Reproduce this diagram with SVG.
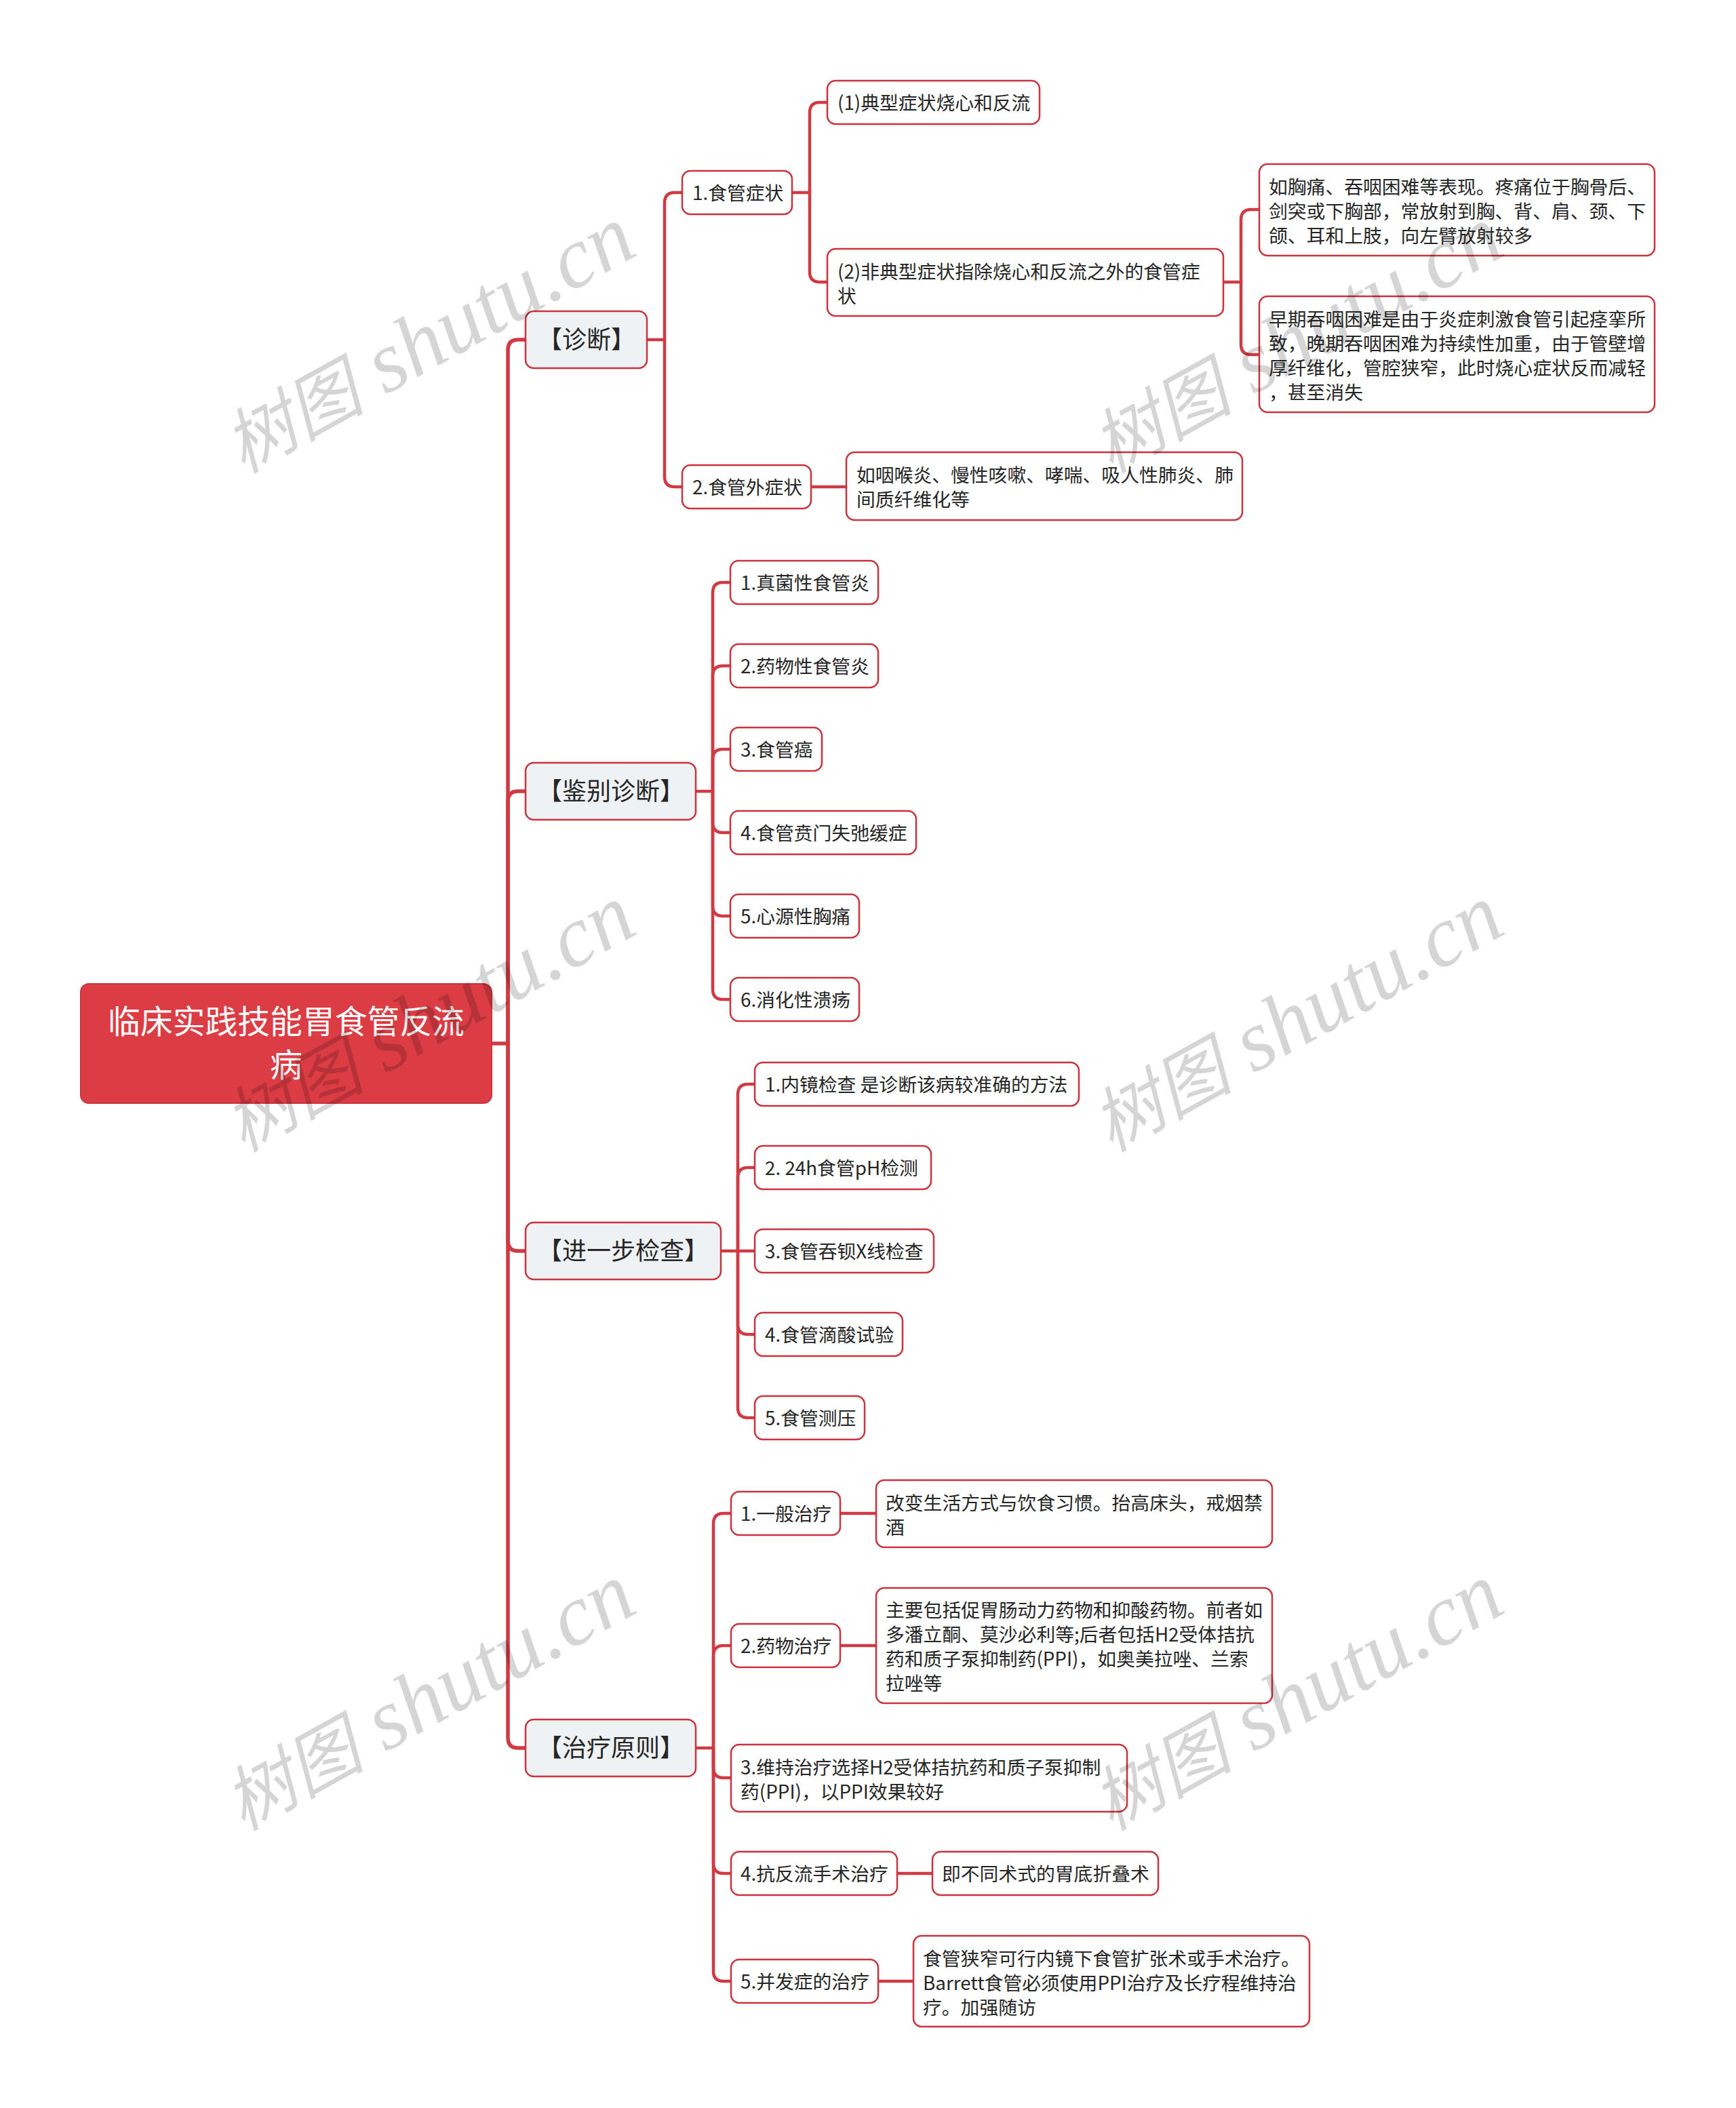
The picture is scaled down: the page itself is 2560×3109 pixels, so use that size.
<svg xmlns="http://www.w3.org/2000/svg" width="2560" height="3109" viewBox="0 0 2560 3109">
<style>
text{font-family:"Noto Sans CJK SC","Noto Sans",sans-serif;fill:#262626}
.n rect{fill:#fff;stroke:#c9333c;stroke-width:2.5}
.n text{font-size:27.8px;transform:translate(0,.7px)}
.l1 rect{fill:#eff2f5;stroke:#c9333c;stroke-width:2.5}
.l1 text{font-size:36px;text-anchor:middle}
.root rect{fill:#dc3c44;stroke:#c9333c;stroke-width:2}
.root text{font-size:47.8px;fill:#fff;text-anchor:middle}
#connectors path{fill:none;stroke:#d03a43;stroke-width:4.5;stroke-linecap:round}
#connectors path.main{stroke-width:5.5}
.wm{font-family:"Liberation Serif","Noto Sans CJK SC",serif;font-style:italic;font-size:128px;fill:#000;fill-opacity:.165}
.wm tspan{font-size:104px}
</style>
<rect width="2560" height="3109" fill="#fff"/>
<g id="connectors">
<path class="main" d="M725 1539H749"/>
<path class="main" d="M749 1539V516Q749 501 764 501H775"/>
<path class="main" d="M749 1539V1182Q749 1167 764 1167H775"/>
<path class="main" d="M749 1539V1830Q749 1845 764 1845H775"/>
<path class="main" d="M749 1539V2563Q749 2578 764 2578H775"/>
<path d="M954 501H980"/>
<path d="M980 501V299Q980 284 995 284H1006"/>
<path d="M980 501V703Q980 718 995 718H1006"/>
<path d="M1168 284H1194"/>
<path d="M1194 284V166Q1194 151 1209 151H1220"/>
<path d="M1194 284V401Q1194 416 1209 416H1220"/>
<path d="M1804 416H1830"/>
<path d="M1830 416V324Q1830 309 1845 309H1857"/>
<path d="M1830 416V508Q1830 523 1845 523H1857"/>
<path d="M1196 718H1248"/>
<path d="M1026 1167H1051"/>
<path d="M1051 1167V874Q1051 859 1066 859H1077"/>
<path d="M1051 1167V997Q1051 982 1066 982H1077"/>
<path d="M1051 1167V1120Q1051 1105 1066 1105H1077"/>
<path d="M1051 1167V1213Q1051 1228 1066 1228H1077"/>
<path d="M1051 1167V1336Q1051 1351 1066 1351H1077"/>
<path d="M1051 1167V1459Q1051 1474 1066 1474H1077"/>
<path d="M1063 1845H1113"/>
<path d="M1088 1845V1614Q1088 1599 1103 1599H1113"/>
<path d="M1088 1845V1737Q1088 1722 1103 1722H1113"/>
<path d="M1088 1845V1953Q1088 1968 1103 1968H1113"/>
<path d="M1088 1845V2076Q1088 2091 1103 2091H1113"/>
<path d="M1026 2578H1052"/>
<path d="M1052 2578V2247Q1052 2232 1067 2232H1078"/>
<path d="M1052 2578V2442Q1052 2427 1067 2427H1078"/>
<path d="M1052 2578V2607Q1052 2622 1067 2622H1078"/>
<path d="M1052 2578V2748Q1052 2763 1067 2763H1078"/>
<path d="M1052 2578V2907Q1052 2922 1067 2922H1078"/>
<path d="M1239 2232H1292"/>
<path d="M1239 2427H1292"/>
<path d="M1323 2763H1375"/>
<path d="M1295 2922H1347"/>
</g>
<g id="root" class="root"><rect x="119" y="1451" width="606" height="176" rx="12"/><text x="422" y="1524">临床实践技能胃食管反流</text><text x="422" y="1588">病</text></g>
<g id="a" class="l1"><rect x="775" y="459" width="179" height="84" rx="12"/><text x="865" y="514">【诊断】</text></g>
<g id="b" class="l1"><rect x="775" y="1125" width="251" height="84" rx="12"/><text x="901" y="1180">【鉴别诊断】</text></g>
<g id="c" class="l1"><rect x="775" y="1803" width="288" height="84" rx="12"/><text x="919" y="1858">【进一步检查】</text></g>
<g id="d" class="l1"><rect x="775" y="2536" width="251" height="84" rx="12"/><text x="901" y="2591">【治疗原则】</text></g>
<g id="a1" class="n"><rect x="1006" y="252" width="162" height="64" rx="12"/><text x="1021" y="294">1.食管症状</text></g>
<g id="a11" class="n"><rect x="1220" y="119" width="313" height="64" rx="12"/><text x="1235" y="161">(1)典型症状烧心和反流</text></g>
<g id="a12" class="n"><rect x="1220" y="367" width="584" height="99" rx="12"/><text x="1235" y="410">(2)非典型症状指除烧心和反流之外的食管症</text><text x="1235" y="446">状</text></g>
<g id="a121" class="n"><rect x="1857" y="242" width="583" height="135" rx="12"/><text x="1871" y="285">如胸痛、吞咽困难等表现。疼痛位于胸骨后、</text><text x="1871" y="321">剑突或下胸部，常放射到胸、背、肩、颈、下</text><text x="1871" y="357">颌、耳和上肢，向左臂放射较多</text></g>
<g id="a122" class="n"><rect x="1857" y="437" width="583" height="171" rx="12"/><text x="1871" y="480">早期吞咽困难是由于炎症刺激食管引起痉挛所</text><text x="1871" y="516">致，晚期吞咽困难为持续性加重，由于管壁增</text><text x="1871" y="552">厚纤维化，管腔狭窄，此时烧心症状反而减轻</text><text x="1871" y="588">，甚至消失</text></g>
<g id="a2" class="n"><rect x="1006" y="686" width="190" height="64" rx="12"/><text x="1021" y="728">2.食管外症状</text></g>
<g id="a21" class="n"><rect x="1248" y="667" width="584" height="100" rx="12"/><text x="1263" y="710">如咽喉炎、慢性咳嗽、哮喘、吸人性肺炎、肺</text><text x="1263" y="746">间质纤维化等</text></g>
<g id="b1" class="n"><rect x="1077" y="827" width="218" height="64" rx="12"/><text x="1092" y="869">1.真菌性食管炎</text></g>
<g id="b2" class="n"><rect x="1077" y="950" width="218" height="64" rx="12"/><text x="1092" y="992">2.药物性食管炎</text></g>
<g id="b3" class="n"><rect x="1077" y="1073" width="135" height="64" rx="12"/><text x="1092" y="1115">3.食管癌</text></g>
<g id="b4" class="n"><rect x="1077" y="1196" width="274" height="64" rx="12"/><text x="1092" y="1238">4.食管贲门失弛缓症</text></g>
<g id="b5" class="n"><rect x="1077" y="1319" width="190" height="64" rx="12"/><text x="1092" y="1361">5.心源性胸痛</text></g>
<g id="b6" class="n"><rect x="1077" y="1442" width="190" height="64" rx="12"/><text x="1092" y="1484">6.消化性溃疡</text></g>
<g id="c1" class="n"><rect x="1113" y="1567" width="478" height="64" rx="12"/><text x="1128" y="1609">1.内镜检查 是诊断该病较准确的方法</text></g>
<g id="c2" class="n"><rect x="1113" y="1690" width="260" height="64" rx="12"/><text x="1128" y="1732">2. 24h食管pH检测</text></g>
<g id="c3" class="n"><rect x="1113" y="1813" width="264" height="64" rx="12"/><text x="1128" y="1855">3.食管吞钡X线检查</text></g>
<g id="c4" class="n"><rect x="1113" y="1936" width="218" height="64" rx="12"/><text x="1128" y="1978">4.食管滴酸试验</text></g>
<g id="c5" class="n"><rect x="1113" y="2059" width="162" height="64" rx="12"/><text x="1128" y="2101">5.食管测压</text></g>
<g id="d1" class="n"><rect x="1078" y="2200" width="161" height="64" rx="12"/><text x="1092" y="2242">1.一般治疗</text></g>
<g id="d11" class="n"><rect x="1292" y="2183" width="584" height="99" rx="12"/><text x="1306" y="2226">改变生活方式与饮食习惯。抬高床头，戒烟禁</text><text x="1306" y="2262">酒</text></g>
<g id="d2" class="n"><rect x="1078" y="2395" width="161" height="64" rx="12"/><text x="1092" y="2437">2.药物治疗</text></g>
<g id="d21" class="n"><rect x="1292" y="2342" width="584" height="170" rx="12"/><text x="1306" y="2384">主要包括促胃肠动力药物和抑酸药物。前者如</text><text x="1306" y="2420">多潘立酮、莫沙必利等;后者包括H2受体拮抗</text><text x="1306" y="2456">药和质子泵抑制药(PPI)，如奥美拉唑、兰索</text><text x="1306" y="2492">拉唑等</text></g>
<g id="d3" class="n"><rect x="1078" y="2573" width="584" height="99" rx="12"/><text x="1092" y="2616">3.维持治疗选择H2受体拮抗药和质子泵抑制</text><text x="1092" y="2652">药(PPI)，以PPI效果较好</text></g>
<g id="d4" class="n"><rect x="1078" y="2731" width="245" height="64" rx="12"/><text x="1092" y="2773">4.抗反流手术治疗</text></g>
<g id="d41" class="n"><rect x="1375" y="2731" width="333" height="64" rx="12"/><text x="1389" y="2773">即不同术式的胃底折叠术</text></g>
<g id="d5" class="n"><rect x="1078" y="2890" width="217" height="64" rx="12"/><text x="1092" y="2932">5.并发症的治疗</text></g>
<g id="d51" class="n"><rect x="1347" y="2855" width="584" height="134" rx="12"/><text x="1361" y="2898">食管狭窄可行内镜下食管扩张术或手术治疗。</text><text x="1361" y="2934">Barrett食管必须使用PPI治疗及长疗程维持治</text><text x="1361" y="2970">疗。加强随访</text></g>
<g id="watermark">
<text class="wm" transform="translate(358 699) rotate(-29)"><tspan>树图</tspan> shutu.cn</text>
<text class="wm" transform="translate(1638 699) rotate(-29)"><tspan>树图</tspan> shutu.cn</text>
<text class="wm" transform="translate(358 1700) rotate(-29)"><tspan>树图</tspan> shutu.cn</text>
<text class="wm" transform="translate(1638 1700) rotate(-29)"><tspan>树图</tspan> shutu.cn</text>
<text class="wm" transform="translate(358 2701) rotate(-29)"><tspan>树图</tspan> shutu.cn</text>
<text class="wm" transform="translate(1638 2701) rotate(-29)"><tspan>树图</tspan> shutu.cn</text>
</g>
</svg>
